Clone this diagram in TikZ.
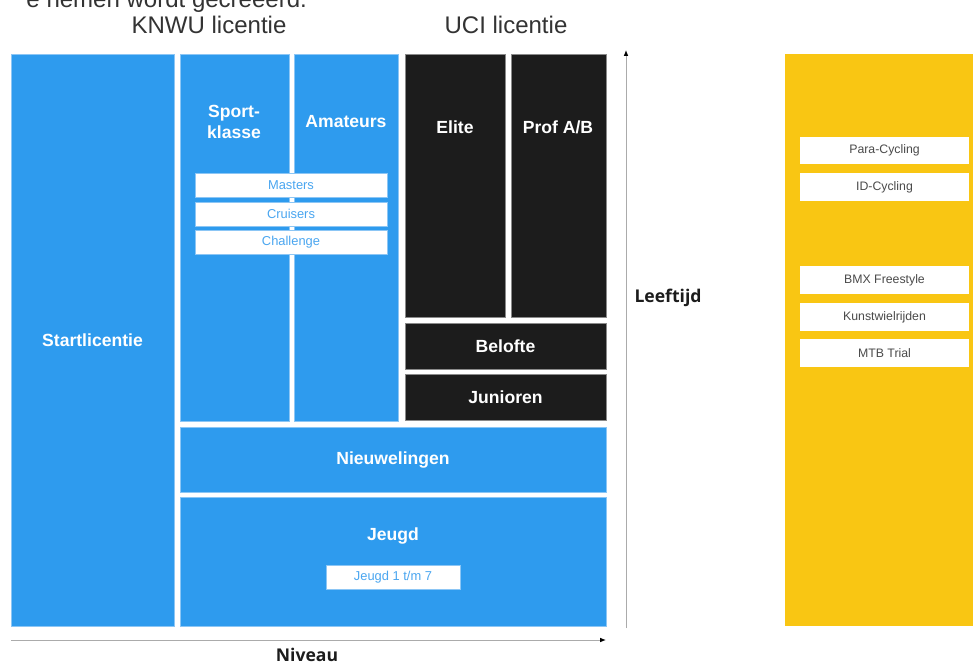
\documentclass[tikz,border=0pt]{standalone}
\usepackage{fontspec}
\setmainfont{Liberation Sans}
\newfontfamily\asfont{Open Sans}
\usetikzlibrary{fit,arrows.meta}
\definecolor{knwublauw}{HTML}{2E9BEE}
\definecolor{knwurand}{HTML}{8CC6F5}
\definecolor{ucizwart}{HTML}{1C1C1C}
\definecolor{ucirand}{HTML}{8A8A8A}
\definecolor{overiggeel}{HTML}{F9C613}
\definecolor{subblauw}{HTML}{4AA6F0}
\definecolor{subgrijs}{HTML}{4A4A4A}
\definecolor{asgrijs}{HTML}{ABABAB}
\definecolor{kopgrijs}{HTML}{333333}
\tikzset{
  blok/.style={fill=knwublauw,draw=knwurand,line width=0.5pt,inner sep=0pt},
  ucivak/.style={fill=ucizwart,draw=ucirand,line width=0.5pt,inner sep=0pt},
  geelvak/.style={fill=overiggeel,draw=none,inner sep=0pt},
  titel/.style={text=white,font=\bfseries\fontsize{15}{18}\selectfont,align=center},
  subvak/.style={fill=white,draw=knwurand,line width=0.4pt,inner sep=0pt},
  subtekst/.style={text=subblauw,font=\fontsize{11}{13}\selectfont},
  geelsub/.style={fill=white,draw=none,inner sep=0pt},
  geeltekst/.style={text=subgrijs,font=\fontsize{10.5}{13}\selectfont},
  kop/.style={text=kopgrijs,font=\fontsize{20.5}{24}\selectfont},
  aslabel/.style={text=ucizwart,font=\asfont\bfseries\fontsize{15}{18}\selectfont},
  as/.style={draw=asgrijs,line width=0.8pt,-{Latex[length=5pt,width=4pt,color=black]}}
}

\begin{document}
\begin{tikzpicture}[x=0.03cm,y=-0.03cm]
\clip (0,0) rectangle (973,666);
\fill[white] (0,0) rectangle (973,666);
% koppen
\node[kop,anchor=base east] (intro) at (311,7) {e nemen wordt gecreëerd.};
\node[kop] (knwu) at (209,25) {KNWU licentie};
\node[kop] (uci) at (506,25) {UCI licentie};
% KNWU
\node[blok,fit={(11,54) (174,626)}] (start) {};
\node[titel] (starttekst) at (start.center) {Startlicentie};
\node[blok,fit={(180,54) (289,421)}] (sport) {};
\node[blok,fit={(294,54) (398,421)}] (amateurs) {};
\node[titel] (sporttekst) at (234,122) {Sport-\\klasse};
\node[titel] (amateurstekst) at (346,122) {Amateurs};
\node[subvak,fit={(195,173) (387,197)}] (masters) {};
\node[subvak,fit={(195,202) (387,226)}] (cruisers) {};
\node[subvak,fit={(195,230) (387,254)}] (challenge) {};
\node[subtekst] (masterstekst) at (masters.center) {Masters};
\node[subtekst] (cruiserstekst) at (cruisers.center) {Cruisers};
\node[subtekst] (challengetekst) at (challenge.center) {Challenge};
\node[blok,fit={(180,427) (606,492)}] (nieuwelingen) {};
\node[titel] (nieuwtekst) at (nieuwelingen.center) {Nieuwelingen};
\node[blok,fit={(180,497) (606,626)}] (jeugd) {};
\node[titel] (jeugdtekst) at (393,536) {Jeugd};
\node[subvak,fit={(326,565) (460,589)}] (jeugdcat) {};
\node[subtekst] (jeugdcattekst) at (jeugdcat.center) {Jeugd 1 t/m 7};
% UCI
\node[ucivak,fit={(405,54) (505,317)}] (elite) {};
\node[ucivak,fit={(511,54) (606,317)}] (prof) {};
\node[titel] (elitetekst) at (455,127) {Elite};
\node[titel] (proftekst) at (558,127) {Prof A/B};
\node[ucivak,fit={(405,323) (606,369)}] (belofte) {};
\node[ucivak,fit={(405,374) (606,420)}] (junioren) {};
\node[titel] (beloftetekst) at (belofte.center) {Belofte};
\node[titel] (juniorentekst) at (junioren.center) {Junioren};
% assen
\coordinate (xbegin) at (11,640);
\coordinate (xeind) at (606,640);
\coordinate (ybegin) at (626,628);
\coordinate (yeind) at (626,50);
\draw[as] (xbegin) -- (xeind);
\draw[as] (ybegin) -- (yeind);
\node[aslabel] (niveau) at (307,655) {Niveau};
\node[aslabel] (leeftijd) at (668,298) {Leeftijd};
% overige disciplines
\node[geelvak,fit={(785,54) (973,626)}] (overig) {};
\node[geelsub,fit={(800,137) (969,164)}] (para) {};
\node[geelsub,fit={(800,173) (969,201)}] (idc) {};
\node[geelsub,fit={(800,266) (969,294)}] (bmx) {};
\node[geelsub,fit={(800,303) (969,331)}] (kunst) {};
\node[geelsub,fit={(800,339) (969,367)}] (mtb) {};
\node[geeltekst] (paratekst) at (para.center) {Para-Cycling};
\node[geeltekst] (idctekst) at (idc.center) {ID-Cycling};
\node[geeltekst] (bmxtekst) at (bmx.center) {BMX Freestyle};
\node[geeltekst] (kunsttekst) at (kunst.center) {Kunstwielrijden};
\node[geeltekst] (mtbtekst) at (mtb.center) {MTB Trial};
\end{tikzpicture}
\end{document}
